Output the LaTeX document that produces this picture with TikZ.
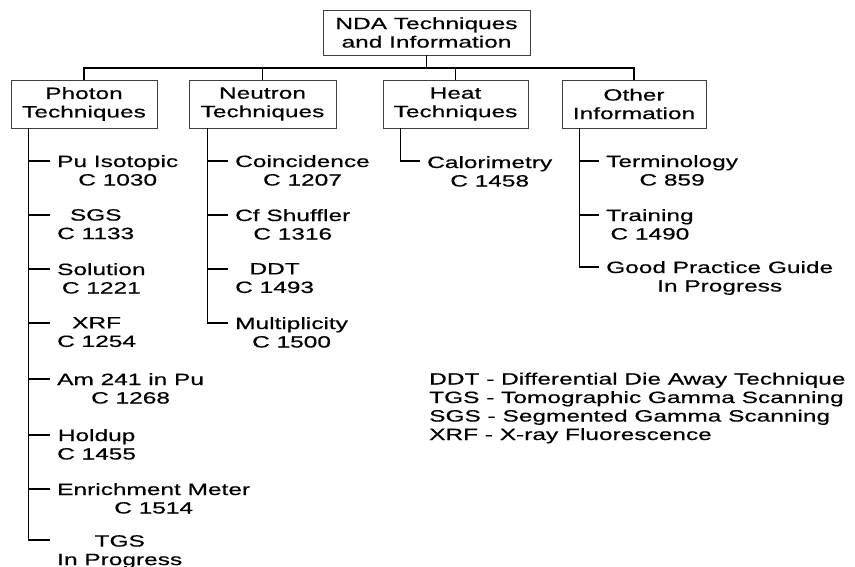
\documentclass[tikz,border=0pt]{standalone}
\usepackage{fontspec}
\setmainfont{Liberation Sans}[FakeStretch=1.5,FakeBold=0.5]
\begin{document}
\begin{tikzpicture}[x=1pt,y=-1pt,
  font=\fontsize{16.3}{18.5}\selectfont,
  box/.style={draw=black!75, line width=0.9pt, inner sep=0pt, align=center},
  conn/.style={draw=black, line width=1.8pt},
  item/.style={anchor=north west, inner sep=0pt, align=center},
  legendtext/.style={anchor=north west, inner sep=0pt, align=left}]
\useasboundingbox (0,0) rectangle (855,567);
% boxes
\node[box, minimum width=207pt, minimum height=45pt] (root) at (426.5,32.5) {NDA Techniques\\and Information};
\node[box, minimum width=146pt, minimum height=48pt] (photon) at (84,104) {Photon\\Techniques};
\node[box, minimum width=147pt, minimum height=48pt] (neutron) at (262.5,104) {Neutron\\Techniques};
\node[box, minimum width=145pt, minimum height=48pt] (heat) at (455.5,104) {Heat\\Techniques};
\node[box, minimum width=144pt, minimum height=48pt] (other) at (634,104) {Other\\Information};
% bus
\coordinate (bus) at (0,68);
\draw[conn] (root.south) -- (root.south |- bus);
\draw[conn] (photon.north) -- (photon.north |- bus) -- (other.north |- bus) -- (other.north);
\draw[conn] (neutron.north) -- (neutron.north |- bus);
\draw[conn] (heat.north) -- (heat.north |- bus);
% spines
\coordinate (ps) at ([xshift=18pt]photon.south west);
\coordinate (ns) at ([xshift=19pt]neutron.south west);
\coordinate (hs) at ([xshift=18pt]heat.south west);
\coordinate (os) at ([xshift=18pt]other.south west);
% rows
\coordinate (r1) at (0,161);
\coordinate (r2) at (0,215);
\coordinate (r3) at (0,269);
\coordinate (r4) at (0,323);
\coordinate (r5) at (0,379);
\coordinate (r6) at (0,435);
\coordinate (r7) at (0,489);
\coordinate (r8) at (0,540);
\coordinate (r9) at (0,267);
% photon items
\node[item] (p1) at (57,155) {Pu Isotopic\\C 1030};
\node[item] (p2) at (57,209) {SGS\\C 1133};
\node[item] (p3) at (57,263) {Solution\\C 1221};
\node[item] (p4) at (57,317) {XRF\\C 1254};
\node[item] (p5) at (57,373) {Am 241 in Pu\\C 1268};
\node[item] (p6) at (57,429) {Holdup\\C 1455};
\node[item] (p7) at (57,483) {Enrichment Meter\\C 1514};
\node[item] (p8) at (57,535) {TGS\\In Progress};
\draw[conn] (ps) -- (ps |- r8) -- ([xshift=-7pt]p8.west |- r8);
\foreach \i/\r in {1/r1,2/r2,3/r3,4/r4,5/r5,6/r6,7/r7}
  \draw[conn] (ps |- \r) -- ([xshift=-7pt]p\i.west |- \r);
% neutron items
\node[item] (n1) at (235,155) {Coincidence\\C 1207};
\node[item] (n2) at (235,209) {Cf Shuffler\\C 1316};
\node[item] (n3) at (235,263) {DDT\\C 1493};
\node[item] (n4) at (235,317) {Multiplicity\\C 1500};
\draw[conn] (ns) -- (ns |- r4) -- ([xshift=-7pt]n4.west |- r4);
\foreach \i/\r in {1/r1,2/r2,3/r3}
  \draw[conn] (ns |- \r) -- ([xshift=-7pt]n\i.west |- \r);
% heat items
\node[item] (h1) at (427,156) {Calorimetry\\C 1458};
\draw[conn] (hs) -- (hs |- r1) -- ([xshift=-7pt]h1.west |- r1);
% other items
\node[item] (o1) at (606,155) {Terminology\\C 859};
\node[item] (o2) at (606,209) {Training\\C 1490};
\node[item] (o3) at (606,261) {Good Practice Guide\\In Progress};
\draw[conn] (os) -- (os |- r9) -- ([xshift=-7pt]o3.west |- r9);
\foreach \i/\r in {1/r1,2/r2}
  \draw[conn] (os |- \r) -- ([xshift=-7pt]o\i.west |- \r);
% legend
\node[legendtext] (legend) at (429,372.5) {DDT - Differential Die Away Technique\\TGS - Tomographic Gamma Scanning\\SGS - Segmented Gamma Scanning\\XRF - X-ray Fluorescence};
\end{tikzpicture}
\end{document}
